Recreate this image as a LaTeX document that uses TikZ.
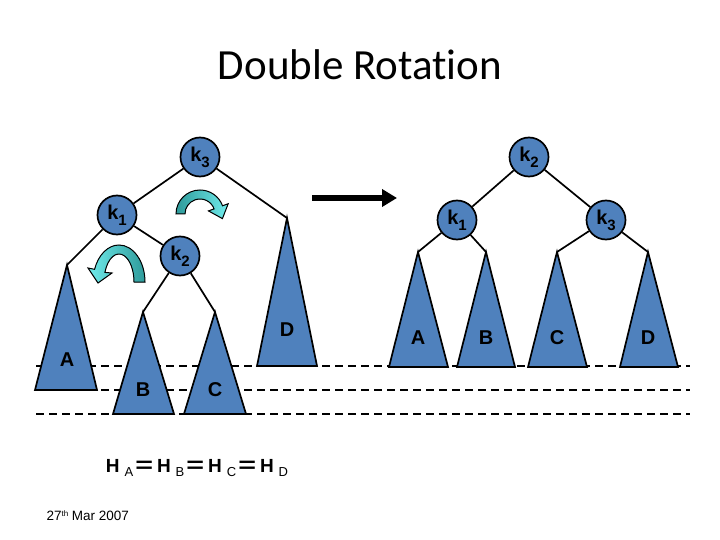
\documentclass[tikz,border=0pt]{standalone}
\usepackage{fontspec}
\setmainfont{Liberation Sans}
\newfontfamily\titulo[Ligatures=NoCommon]{Carlito}
\usetikzlibrary{arrows.meta, calc}
\definecolor{azulArbol}{HTML}{4F81BD}
\definecolor{giroOscuro}{HTML}{2E9A9A}
\definecolor{giroClaro}{HTML}{70ECEC}
\newcommand{\bajo}[1]{\raisebox{-6pt}{\fontsize{15}{15}\selectfont #1}}
\newcommand{\bajoH}[1]{\hspace{5pt}\raisebox{-4.5pt}{\mdseries\fontsize{13}{13}\selectfont #1}}
\newcommand{\igual}{\hspace{2pt}\scalebox{1.6}[1.15]{=}\hspace{4pt}}

\begin{document}
\begin{tikzpicture}[x=1pt, y=1pt, yscale=-1,
        clave/.style={circle, draw=black, fill=azulArbol, line width=1.7pt, minimum size=39pt,
            inner sep=0pt, font=\bfseries\fontsize{20}{20}\selectfont},
        arbol/.style={draw=black, fill=azulArbol, line width=1.7pt, line join=miter},
        letra/.style={font=\bfseries\fontsize{20}{20}\selectfont},
        rama/.style={line width=1.7pt},
        nivel/.style={line width=1.7pt, dash pattern=on 8pt off 5pt},
        giro/.style={draw=black, line width=1pt}
    ]
    \useasboundingbox (0,0) rectangle (720,540);
    \node[font=\titulo\fontsize{43}{43}\selectfont, anchor=base] (tit) at (360,80) {Double Rotation};

    % niveles de altura
    \draw[nivel] (36,366) -- (690,366);
    \draw[nivel] (36,390) -- (690,390);
    \draw[nivel] (36,414) -- (690,414);

    % arbol antes del giro
    \node[clave] (k3) at (200,157) {k\bajo{3}};
    \node[clave] (k1) at (117,215) {k\bajo{1}};
    \node[clave] (k2) at (180,256) {k\bajo{2}};
    \coordinate (apA) at (67,265); \coordinate (apB) at (143,312);
    \coordinate (apC) at (215,312); \coordinate (apD) at (287,218);
    \draw[rama] (k3) -- (k1); \draw[rama] (k3) -- (apD);
    \draw[rama] (k1) -- (apA); \draw[rama] (k1) -- (k2);
    \draw[rama] (k2) -- (apB); \draw[rama] (k2) -- (apC);
    \filldraw[arbol] (apA) -- (35,390) -- (97,390) -- cycle;
    \filldraw[arbol] (apB) -- (113,414) -- (174,414) -- cycle;
    \filldraw[arbol] (apC) -- (184,414) -- (246,414) -- cycle;
    \filldraw[arbol] (apD) -- (257,366) -- (317,366) -- cycle;
    \node[letra] (tA) at (67,360) {A};
    \node[letra] (tB) at (143,390) {B};
    \node[letra] (tC) at (215,390) {C};
    \node[letra] (tD) at (287,330) {D};

    % flechas de giro
    \coordinate (g1) at (200,214);
    \filldraw[giro, left color=giroOscuro, right color=giroClaro]
        ($(g1)+(180:24)$) arc[start angle=180, end angle=340, radius=24]
        -- ($(g1)+(340:30)$) -- ($(g1)+(340:19.5)+(70:12)$) -- ($(g1)+(340:9)$)
        -- ($(g1)+(340:15)$) arc[start angle=340, end angle=180, radius=15] -- cycle;
    \coordinate (g2) at (119,282);
    \filldraw[giro, left color=giroClaro, right color=giroOscuro]
        ($(g2)+(0:26 and 37)$) arc[start angle=0, end angle=-160, x radius=26, y radius=37]
        -- (88,268) -- (98,283) -- (112,273)
        -- ($(g2)+(-160:15 and 28)$) arc[start angle=-160, end angle=0, x radius=15, y radius=28] -- cycle;

    % flecha central
    \coordinate (fIni) at (312,198);
    \coordinate (fFin) at (397,198);
    \draw[line width=5.5pt, -{Triangle[length=15pt, width=17pt]}] (fIni) -- (fFin);

    % arbol despues del giro
    \node[clave] (m2) at (529,157) {k\bajo{2}};
    \node[clave] (m1) at (457,220) {k\bajo{1}};
    \node[clave] (m3) at (606,220) {k\bajo{3}};
    \coordinate (bpA) at (418,252); \coordinate (bpB) at (486,252);
    \coordinate (bpC) at (557,252); \coordinate (bpD) at (648,252);
    \draw[rama] (m2) -- (m1); \draw[rama] (m2) -- (m3);
    \draw[rama] (m1) -- (bpA); \draw[rama] (m1) -- (bpB);
    \draw[rama] (m3) -- (bpC); \draw[rama] (m3) -- (bpD);
    \filldraw[arbol] (bpA) -- (389,367) -- (448,367) -- cycle;
    \filldraw[arbol] (bpB) -- (457,367) -- (515,367) -- cycle;
    \filldraw[arbol] (bpC) -- (528,367) -- (587,367) -- cycle;
    \filldraw[arbol] (bpD) -- (620,367) -- (678,367) -- cycle;
    \node[letra] (uA) at (418,338) {A};
    \node[letra] (uB) at (486,338) {B};
    \node[letra] (uC) at (557,338) {C};
    \node[letra] (uD) at (648,338) {D};

    \node[font=\bfseries\fontsize{19}{19}\selectfont, anchor=base] (alturas) at (197,472)
        {H\bajoH{A}\igual H\bajoH{B}\igual H\bajoH{C}\igual H\bajoH{D}};
    \node[font=\fontsize{13.5}{13.5}\selectfont, anchor=base west] (fecha) at (43,520)
        {27\raisebox{4pt}{\fontsize{8}{8}\selectfont th} Mar 2007};
\end{tikzpicture}
\end{document}
